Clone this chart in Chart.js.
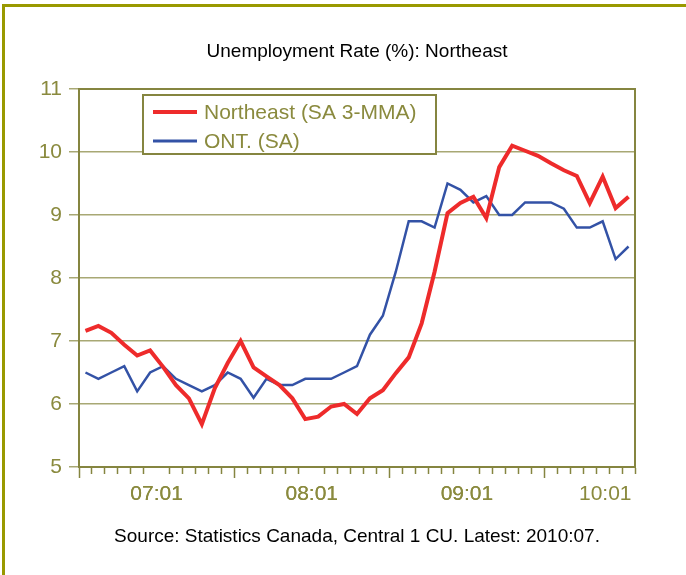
<!DOCTYPE html>
<html><head><meta charset="utf-8">
<script src="https://cdn.jsdelivr.net/npm/chart.js@4/dist/chart.umd.min.js"></script>
<style>
html,body{margin:0;padding:0;background:#fff;overflow:hidden;}
#frame{position:absolute;left:2px;top:4px;width:760px;height:640px;border:3px solid #999900;box-sizing:border-box;}
#wrap{position:absolute;left:0;top:0;width:686px;height:575px;}
</style></head><body>
<div id="frame"></div>
<div id="wrap"><canvas id="c" width="686" height="575"></canvas></div>
<script>
const chartTitle = 'Unemployment Rate (%): Northeast';
const sourceNote = 'Source: Statistics Canada, Central 1 CU. Latest: 2010:07.';
const months = ['07:01','07:02','07:03','07:04','07:05','07:06','07:07','07:08','07:09','07:10','07:11','07:12',
  '08:01','08:02','08:03','08:04','08:05','08:06','08:07','08:08','08:09','08:10','08:11','08:12',
  '09:01','09:02','09:03','09:04','09:05','09:06','09:07','09:08','09:09','09:10','09:11','09:12',
  '10:01','10:02','10:03','10:04','10:05','10:06','10:07'];
const seriesNames = ['Northeast (SA 3-MMA)', 'ONT. (SA)'];
const northeast = [7.16,7.24,7.13,6.94,6.77,6.85,6.59,6.30,6.09,5.68,6.25,6.65,
  7.00,6.58,6.44,6.30,6.09,5.76,5.80,5.96,6.00,5.84,6.09,6.22,
  6.49,6.74,7.28,8.10,9.03,9.19,9.29,8.95,9.76,10.10,10.02,9.94,
  9.82,9.71,9.62,9.19,9.61,9.11,9.29];
const ontario = [6.5,6.4,6.5,6.6,6.2,6.5,6.6,6.4,6.3,6.2,6.3,6.5,
  6.4,6.1,6.4,6.3,6.3,6.4,6.4,6.4,6.5,6.6,7.1,7.4,
  8.1,8.9,8.9,8.8,9.5,9.4,9.2,9.3,9.0,9.0,9.2,9.2,
  9.2,9.1,8.8,8.8,8.9,8.3,8.5];
const yearLabels = ['07:01','08:01','09:01','10:01'];
const yTicks = [5,6,7,8,9,10,11];

const FONT = "'Liberation Sans', Arial, sans-serif";
const OLIVE_TEXT = '#8a8a3e';
const OLIVE_LINE = '#858540';
const GRID = '#a8a874';
const N = months.length;
const xMin = -0.5, xMax = N - 0.5;

// tick positions: month boundaries; year labels centred on 12-month groups
const boundaries = [];
for (let i = 0; i <= N; i++) boundaries.push(i - 0.5);
const labelPos = yearLabels.map((l, k) => Math.min(12 * k + 5.5, xMax - 2.3));
const isLabel = v => labelPos.some(p => Math.abs(p - v) < 1e-6);
const isMajor = v => boundaries.indexOf(v) >= 0 && ((v + 0.5) % 12 === 0) && v < xMax;

const frameLegend = {
  id: 'frameLegend',
  afterDatasetsDraw(chart) {
    const {ctx, chartArea: a} = chart;
    ctx.save();
    ctx.strokeStyle = OLIVE_LINE; ctx.lineWidth = 2;
    ctx.strokeRect(a.left, a.top, a.right - a.left, a.bottom - a.top);
    ctx.restore();
  },
  afterDraw(chart) {
    const {ctx, chartArea: a} = chart;
    const bx = a.left + 64, by = a.top + 6, bw = 293, bh = 59;
    ctx.save();
    ctx.fillStyle = '#fff';
    ctx.fillRect(bx, by, bw, bh);
    ctx.strokeStyle = OLIVE_LINE; ctx.lineWidth = 2;
    ctx.strokeRect(bx, by, bw, bh);
    chart.data.datasets.forEach((ds, i) => {
      const y = by + 17 + i * 29;
      ctx.strokeStyle = ds.borderColor; ctx.lineWidth = i === 0 ? 4 : 3;
      ctx.beginPath(); ctx.moveTo(bx + 10, y); ctx.lineTo(bx + 54, y); ctx.stroke();
      ctx.fillStyle = OLIVE_TEXT;
      ctx.font = '21px ' + FONT;
      ctx.textBaseline = 'middle'; ctx.textAlign = 'left';
      ctx.fillText(ds.label, bx + 61, y + 1);
    });
    ctx.restore();
  }
};

new Chart(document.getElementById('c'), {
  type: 'line',
  data: {
    datasets: [
      {label: seriesNames[0], data: northeast.map((v, i) => ({x: i, y: v})),
       borderColor: '#ee2b2b', borderWidth: 4, pointRadius: 0, tension: 0, borderJoinStyle: 'miter'},
      {label: seriesNames[1], data: ontario.map((v, i) => ({x: i, y: v})),
       borderColor: '#3352a6', borderWidth: 2.5, pointRadius: 0, tension: 0, borderJoinStyle: 'miter'}
    ]
  },
  options: {
    responsive: false, animation: false, devicePixelRatio: 1,
    layout: {padding: {left: 0, right: 51, top: 0, bottom: 0}},
    plugins: {
      legend: {display: false}, tooltip: {enabled: false},
      title: {display: true, text: chartTitle, fullSize: false, color: '#000',
        font: {family: FONT, size: 19, weight: 'normal'}, padding: {top: 40, bottom: 26.2}},
      subtitle: {display: true, position: 'bottom', text: sourceNote, fullSize: false, color: '#000',
        font: {family: FONT, size: 19, weight: 'normal'}, padding: {top: 18.6, bottom: 26.6}}
    },
    scales: {
      x: {
        type: 'linear', min: xMin, max: xMax,
        afterBuildTicks(s) { s.ticks = boundaries.concat(labelPos).map(v => ({value: v})); },
        afterFit(s) { s.height = 40; },
        grid: {
          drawOnChartArea: false, tickLength: 11, tickWidth: 1.5,
          tickColor: c => (c.tick && isLabel(c.tick.value)) ? 'rgba(0,0,0,0)' : OLIVE_LINE,
          tickBorderDash: c => (c.tick && (isMajor(c.tick.value) || isLabel(c.tick.value))) ? [] : [6, 40]
        },
        border: {color: OLIVE_LINE, width: 2},
        ticks: {
          autoSkip: false, maxRotation: 0, minRotation: 0, padding: 4, color: OLIVE_TEXT,
          font: {family: FONT, size: 21},
          callback: v => { const k = labelPos.findIndex(p => Math.abs(p - v) < 1e-6); return k >= 0 ? yearLabels[k] : ''; }
        }
      },
      y: {
        min: yTicks[0], max: yTicks[yTicks.length - 1],
        afterBuildTicks(s) { s.ticks = yTicks.map(v => ({value: v})); },
        afterFit(s) { s.width = 79; },
        grid: {color: GRID, lineWidth: 1.5, tickLength: 10, tickColor: GRID},
        border: {color: OLIVE_LINE, width: 2},
        ticks: {padding: 7, color: OLIVE_TEXT, font: {family: FONT, size: 21}}
      }
    }
  },
  plugins: [frameLegend]
});
</script>
</body></html>
